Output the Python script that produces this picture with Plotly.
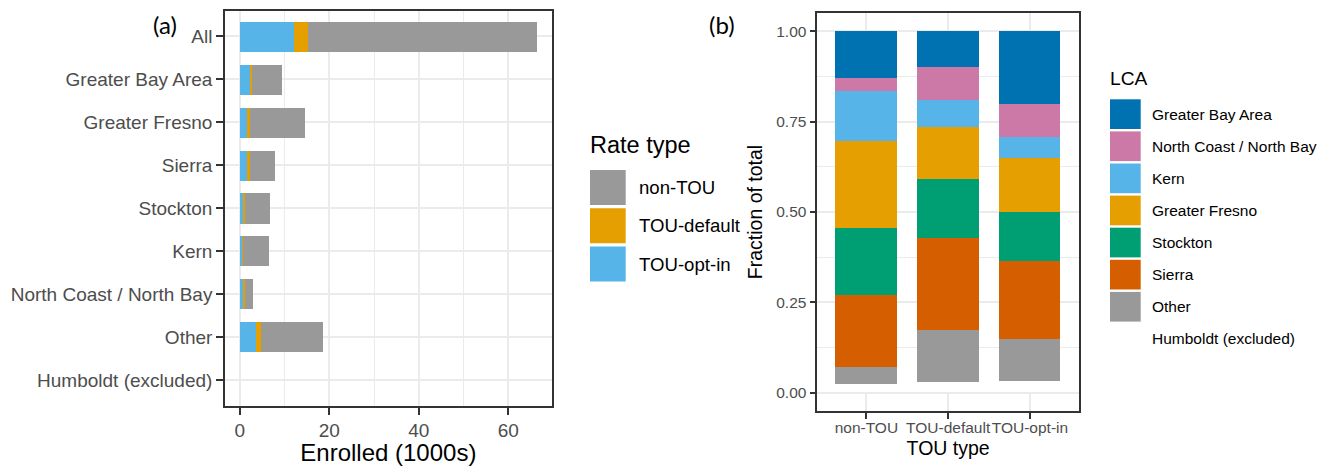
import plotly.graph_objects as go

W, H = 1331, 466

# ---- panel (a): enrolment by LCA and rate type (thousands) ----
regions = ["All", "Greater Bay Area", "Greater Fresno", "Sierra", "Stockton",
           "Kern", "North Coast / North Bay", "Other", "Humboldt (excluded)"]
enrolled_opt_in = [12.1, 2.4, 1.8, 1.7, 0.9, 0.6, 0.9, 3.7, 0.0]
enrolled_default = [3.1, 0.4, 0.4, 0.5, 0.35, 0.1, 0.3, 1.1, 0.0]
enrolled_non_tou = [51.2, 6.7, 12.4, 5.6, 5.45, 5.8, 1.7, 13.8, 0.0]

rate_types = ["non-TOU", "TOU-default", "TOU-opt-in"]
rate_colors = {"non-TOU": "#999999", "TOU-default": "#E69F00", "TOU-opt-in": "#56B4E9"}

# ---- panel (b): share of each TOU type by LCA ----
tou_types = ["non-TOU", "TOU-default", "TOU-opt-in"]
share_bay_area = [0.131, 0.099, 0.203]
share_north_coast = [0.035, 0.093, 0.091]
share_kern = [0.138, 0.073, 0.058]
share_fresno = [0.242, 0.145, 0.150]
share_stockton = [0.184, 0.164, 0.134]
share_sierra = [0.199, 0.254, 0.215]
share_other = [0.049, 0.142, 0.118]
share_humboldt = [0.022, 0.030, 0.031]

lca_names = ["Greater Bay Area", "North Coast / North Bay", "Kern", "Greater Fresno",
             "Stockton", "Sierra", "Other", "Humboldt (excluded)"]
lca_shares = [share_bay_area, share_north_coast, share_kern, share_fresno,
              share_stockton, share_sierra, share_other, share_humboldt]
lca_colors = ["#0072B2", "#CC79A7", "#56B4E9", "#E69F00",
              "#009E73", "#D55E00", "#999999", "#FFFFFF"]

FONT = "Liberation Sans, Arial, sans-serif"
TICK_GREY = "#4D4D4D"
BORDER = "#333333"
GRID = "#EBEBEB"


def px(x, y):
    """Pixel position (from top-left) to paper coordinates."""
    return x / W, 1 - y / H


fig = go.Figure()

# stacked horizontal bars, opt-in drawn first so it sits at the left
series_a = {"TOU-opt-in": enrolled_opt_in, "TOU-default": enrolled_default,
            "non-TOU": enrolled_non_tou}
for name in ["TOU-opt-in", "TOU-default", "non-TOU"]:
    fig.add_trace(go.Bar(
        y=regions, x=series_a[name], orientation="h", name=name,
        marker=dict(color=rate_colors[name], line=dict(width=0)),
        width=0.7, xaxis="x", yaxis="y", showlegend=False,
    ))

# stacked fractions, bottom of the stack first
for name, vals, col in reversed(list(zip(lca_names, lca_shares, lca_colors))):
    fig.add_trace(go.Bar(
        x=tou_types, y=vals, name=name,
        marker=dict(color=col, line=dict(width=0)),
        width=0.75, xaxis="x2", yaxis="y2", showlegend=False,
    ))

totals = [a + b + c for a, b, c in zip(enrolled_opt_in, enrolled_default, enrolled_non_tou)]
xmax = max(totals)

ax_common = dict(
    showline=True, mirror=True, linecolor=BORDER, linewidth=1.6,
    ticks="outside", tickcolor=BORDER, tickwidth=1.5,
    gridcolor=GRID, gridwidth=1.5, zeroline=False, automargin=False,
)

(l0, t0), (l1, t1) = px(225, 405.7), px(551.7, 10.7)
(r0, u0), (r1, u1) = px(817.3, 410.7), px(1079, 13.3)

fig.update_layout(
    width=W, height=H, margin=dict(l=0, r=0, t=0, b=0),
    paper_bgcolor="white", plot_bgcolor="white",
    barmode="stack", bargap=0,
    font=dict(family=FONT, color="black"),
    xaxis=dict(
        domain=[l0, l1], range=[-0.05 * xmax, 1.05 * xmax],
        tickvals=[0, 20, 40, 60], ticklen=7, tickangle=0,
        tickfont=dict(size=19, color=TICK_GREY),
        minor=dict(dtick=10, tick0=0, showgrid=True, gridcolor=GRID, gridwidth=0.8, ticks=""),
        title=dict(text="Enrolled (1000s)", font=dict(size=24, color="black"), standoff=6),
        anchor="y", **ax_common,
    ),
    yaxis=dict(
        domain=[t0, t1], type="category", categoryorder="array", categoryarray=regions,
        range=[len(regions) - 0.4, -0.6], ticklen=7,
        tickfont=dict(size=19, color=TICK_GREY),
        anchor="x", **ax_common,
    ),
    xaxis2=dict(
        domain=[r0, r1], type="category", categoryorder="array", categoryarray=tou_types,
        range=[-0.6, len(tou_types) - 0.4], ticklen=6, tickangle=0, ticklabelstandoff=-4,
        tickfont=dict(size=15.5, color=TICK_GREY),
        title=dict(text="TOU type", font=dict(size=19.5, color="black"), standoff=6),
        anchor="y2", **ax_common,
    ),
    yaxis2=dict(
        domain=[u0, u1], range=[-0.05, 1.05],
        tickvals=[0, 0.25, 0.5, 0.75, 1.0], ticktext=["0.00", "0.25", "0.50", "0.75", "1.00"],
        ticklen=6, tickfont=dict(size=15.5, color=TICK_GREY),
        minor=dict(dtick=0.125, tick0=0, showgrid=True, gridcolor=GRID, gridwidth=0.8, ticks=""),
        title=dict(text="Fraction of total", font=dict(size=19.5, color="black"), standoff=8),
        anchor="x2", **ax_common,
    ),
)

shapes, annotations = [], []


def swatch(x, y, w, h, color):
    (xa, ya), (xb, yb) = px(x, y + h), px(x + w, y)
    shapes.append(dict(type="rect", xref="paper", yref="paper", x0=xa, x1=xb, y0=ya, y1=yb,
                       fillcolor=color, line=dict(width=0), layer="above"))


def text(x, y, s, size, anchor="left", color="black", family=FONT):
    xa, ya = px(x, y)
    annotations.append(dict(xref="paper", yref="paper", x=xa, y=ya, text=s, showarrow=False,
                            xanchor=anchor, yanchor="middle",
                            font=dict(size=size, color=color, family=family)))


# legend for panel (a)
text(588, 145, "Rate type", 23.5)
for i, name in enumerate(rate_types):
    top = 170 + i * 38.3
    swatch(590, top, 35.7, 35, rate_colors[name])
    text(637, top + 17.5, name, 18.6)

# legend for panel (b)
text(1108, 79, "LCA", 19.2)
for i, (name, col) in enumerate(zip(lca_names, lca_colors)):
    top = 99.3 + i * 32.1
    swatch(1110, top, 30.7, 29.7, col)
    text(1150, top + 14.85, name, 15.5)

# panel tags
text(165, 24, "(a)", 24, anchor="center", family="Lato, Open Sans, sans-serif")
text(722, 24, "(b)", 24, anchor="center", family="Lato, Open Sans, sans-serif")

fig.update_layout(shapes=shapes, annotations=annotations)
fig.write_html("out.html")
